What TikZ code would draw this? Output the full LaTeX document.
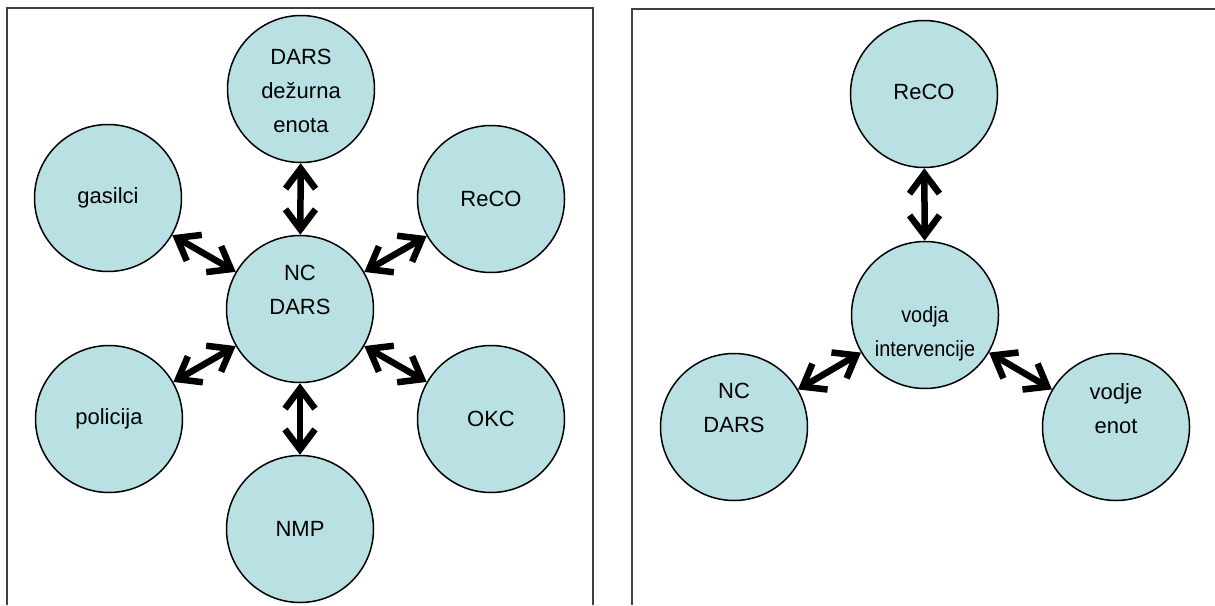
\documentclass[tikz,border=0pt]{standalone}
\usepackage{fontspec}
\setmainfont{Liberation Sans}
\usetikzlibrary{arrows.meta}
\definecolor{circfill}{RGB}{185,224,227}
\definecolor{framecol}{RGB}{64,64,64}
\tikzset{
  circ/.style={circle, draw=black, line width=1.5pt, fill=circfill, minimum size=147pt, inner sep=0pt},
  lbl/.style={align=center, font=\fontsize{22}{34}\selectfont, inner sep=0pt},
  dbl/.style={line width=6.5pt, {Straight Barb[length=20pt,width=30pt]}-{Straight Barb[length=20pt,width=30pt]}},
  framestyle/.style={draw=framecol, line width=1.5pt}
}
\begin{document}
\begin{tikzpicture}[x=1pt,y=-1pt]
\useasboundingbox (0,0) rectangle (1215,605);
% frames
\draw[framestyle] (7,605) -- (7,8) -- (593,8) -- (593,605);
\draw[framestyle] (632,605) -- (632,9) -- (1215,9);
% left panel circles
\node[circ] (dde) at (301,89) {};
\node[circ] (gas) at (108,198) {};
\node[circ] (nc) at (300,309) {};
\node[circ] (recoL) at (491,199) {};
\node[circ] (pol) at (109,419) {};
\node[circ] (okc) at (491,419) {};
\node[circ] (nmp) at (300,529) {};
% left labels
\node[lbl] (tdde) at ([yshift=-1.5pt]dde.center) {DARS\\dežurna\\enota};
\node[lbl] (tgas) at (gas.center) {gasilci};
\node[lbl] (tnc) at ([yshift=19pt]nc.center) {NC\\DARS};
\node[lbl] (trecoL) at (recoL.center) {ReCO};
\node[lbl] (tpol) at (pol.center) {policija};
\node[lbl] (tokc) at (okc.center) {OKC};
\node[lbl] (tnmp) at (nmp.center) {NMP};
% left arrows
\draw[dbl] (dde) -- (nc);
\draw[dbl] (gas) -- (nc);
\draw[dbl] (recoL) -- (nc);
\draw[dbl] (pol) -- (nc);
\draw[dbl] (okc) -- (nc);
\draw[dbl] (nmp) -- (nc);
% right panel circles
\node[circ] (recoR) at (924,94) {};
\node[circ] (vi) at (925,315) {};
\node[circ] (ncR) at (734,427) {};
\node[circ] (ve) at (1116,427) {};
% right labels
\node[lbl] (trecoR) at ([yshift=2pt]recoR.center) {ReCO};
\node[lbl] (tvi) at ([yshift=-19pt]vi.center) {\scalebox{0.9}[1]{vodja}\\\scalebox{0.9}[1]{intervencije}};
\node[lbl] (tncR) at ([yshift=19pt]ncR.center) {NC\\DARS};
\node[lbl] (tve) at ([yshift=18pt]ve.center) {vodje\\enot};
% right arrows
\draw[dbl] (recoR) -- (vi);
\draw[dbl] (ncR) -- (vi);
\draw[dbl] (ve) -- (vi);
\end{tikzpicture}
\end{document}
